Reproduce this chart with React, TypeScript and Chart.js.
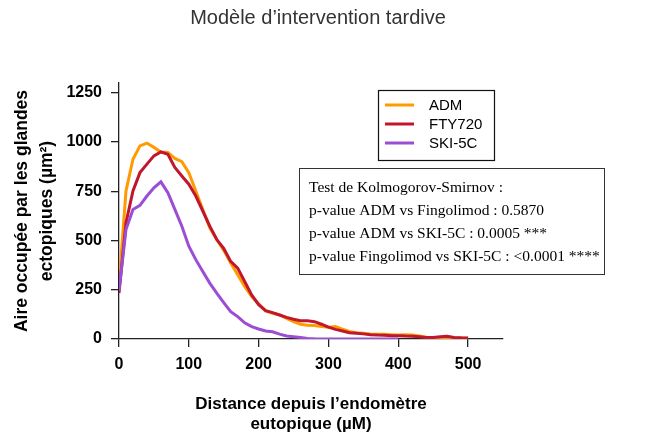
import React, { useEffect, useRef } from "react";
import { Chart, registerables } from "chart.js";

Chart.register(...registerables);

const distances = [
  0, 10, 20, 30, 40, 50, 60, 70, 80, 90,
  100, 110, 120, 130, 140, 150, 160, 170, 180, 190,
  200, 210, 220, 230, 240, 250, 260, 270, 280, 290,
  300, 310, 320, 330, 340, 350, 360, 370, 380, 390,
  400, 410, 420, 430, 440, 450, 460, 470, 480, 490, 500,
];

const admValues = [
  275, 752, 913, 981, 995, 973, 950, 947, 917, 900,
  845, 752, 658, 565, 505, 450, 386, 327, 267, 216,
  179, 143, 131, 122, 105, 88, 75, 70, 68, 63,
  60, 63, 50, 38, 32, 29, 26, 24, 24, 22,
  20, 22, 20, 15, 9, 7, 7, 7, 5, 5, 4,
];

const ftyValues = [
  233, 590, 752, 845, 888, 930, 950, 938, 871, 828,
  786, 726, 650, 573, 505, 460, 394, 360, 292, 224,
  174, 144, 134, 122, 110, 100, 93, 93, 88, 75,
  60, 49, 41, 32, 29, 26, 22, 20, 19, 17,
  17, 15, 14, 12, 8, 8, 12, 14, 8, 6, 5,
];

const skiValues = [
  245, 556, 658, 679, 726, 768, 798, 743, 658, 573,
  471, 403, 343, 284, 233, 185, 139, 114, 82, 63,
  51, 41, 37, 25, 15, 12, 8, 3, 1, 0,
  0, 0, 0, 0, 0, 0, 0, 0, 0, 0,
  0, null, null, null, null, null, null, null, null, null, null,
];

const seriesLabels = ["ADM", "FTY720", "SKI-5C"];
const seriesColors = ["#FF9A00", "#C0172D", "#9B4DD4"];

const yTicks = [0, 250, 500, 750, 1000, 1250];
const xTicks = [0, 100, 200, 300, 400, 500];

const chartTitle = "Modèle d\u2019intervention tardive";
const yTitle = ["Aire occupée par les glandes", "ectopiques (\u00b5m\u00b2)"];
const xTitle = ["Distance depuis l\u2019endomètre", "eutopique (\u00b5M)"];
const statsLines = [
  "Test de Kolmogorov-Smirnov :",
  "p-value ADM vs Fingolimod : 0.5870",
  "p-value ADM vs SKI-5C : 0.0005 ***",
  "p-value Fingolimod vs SKI-5C : <0.0001 ****",
];

const SANS = "'Liberation Sans', Arial, Helvetica, sans-serif";
const SERIF = "'Liberation Serif', 'Times New Roman', serif";

const overlayPlugin = {
  id: "overlay",
  afterDraw(chart: any) {
    const ctx = chart.ctx;
    ctx.save();
    // Title
    ctx.fillStyle = "#333333";
    ctx.font = `20px ${SANS}`;
    ctx.textAlign = "center";
    ctx.textBaseline = "middle";
    ctx.fillText(chartTitle, 310, 10);

    // Legend box
    ctx.strokeStyle = "#111111";
    ctx.lineWidth = 1.2;
    ctx.strokeRect(370.5, 82.5, 116, 70);
    ctx.font = `15px ${SANS}`;
    ctx.textAlign = "left";
    ctx.fillStyle = "#000000";
    chart.data.datasets.forEach((ds: any, i: number) => {
      const y = 97 + i * 19;
      ctx.strokeStyle = ds.borderColor;
      ctx.lineWidth = 3;
      ctx.beginPath();
      ctx.moveTo(377, y);
      ctx.lineTo(406, y);
      ctx.stroke();
      ctx.fillText(ds.label, 421, y + 1);
    });

    // Stats box
    ctx.strokeStyle = "#333333";
    ctx.lineWidth = 1;
    ctx.strokeRect(291.5, 160.5, 305, 106);
    ctx.font = `15.5px ${SERIF}`;
    ctx.fillStyle = "#000000";
    statsLines.forEach((t, i) => {
      ctx.fillText(t, 301, 180 + i * 23);
    });
    ctx.restore();
  },
};

export default function App() {
  const canvasRef = useRef<HTMLCanvasElement | null>(null);

  useEffect(() => {
    if (!canvasRef.current) return;
    const allValues = [admValues, ftyValues, skiValues];
    const datasets = allValues.map((vals, i) => ({
      label: seriesLabels[i],
      data: distances
        .map((x, j) => ({ x, y: vals[j] }))
        .filter((p) => p.y !== null),
      borderColor: seriesColors[i],
      backgroundColor: seriesColors[i],
      borderWidth: 3,
      pointRadius: 0,
      tension: 0,
      fill: false,
      order: 2 - i,
    }));

    const chart = new Chart(canvasRef.current, {
      type: "line",
      data: { datasets: datasets as any },
      options: {
        animation: false,
        responsive: true,
        maintainAspectRatio: false,
        layout: { padding: { top: 75, right: 157, left: 0, bottom: 0 } },
        plugins: {
          legend: { display: false },
          title: { display: false },
          tooltip: { enabled: false },
        },
        scales: {
          x: {
            type: "linear",
            min: 0,
            max: 550,
            afterBuildTicks: (scale: any) => {
              scale.ticks = xTicks.map((v) => ({ value: v }));
            },
            afterFit: (scale: any) => {
              scale.height = 97;
            },
            ticks: {
              color: "#000000",
              font: { family: SANS, size: 16, weight: "bold" },
              padding: 8,
              maxRotation: 0,
              callback: (v: any) => String(v),
            },
            grid: {
              drawOnChartArea: false,
              drawTicks: true,
              tickLength: 8,
              color: "#222222",
              lineWidth: 1.3,
            },
            border: { display: true, color: "#222222", width: 1.3 },
            title: {
              display: true,
              text: xTitle,
              color: "#000000",
              font: { family: SANS, size: 17, weight: "bold", lineHeight: 1.18 },
              padding: { top: 0, bottom: 2 },
            },
          },
          y: {
            type: "linear",
            min: 0,
            max: 1300,
            afterBuildTicks: (scale: any) => {
              scale.ticks = yTicks.map((v) => ({ value: v }));
            },
            afterFit: (scale: any) => {
              scale.width = 111;
            },
            ticks: {
              color: "#000000",
              font: { family: SANS, size: 16, weight: "bold" },
              padding: 9,
              callback: (v: any) => String(v),
            },
            grid: {
              drawOnChartArea: false,
              drawTicks: true,
              tickLength: 8,
              color: "#222222",
              lineWidth: 1.3,
            },
            border: { display: true, color: "#222222", width: 1.3 },
            title: {
              display: true,
              text: yTitle,
              color: "#000000",
              font: { family: SANS, size: 17.5, weight: "bold", lineHeight: 1.43 },
              padding: { top: 1.5, bottom: 0 },
            },
          },
        },
      },
      plugins: [overlayPlugin],
    });
    return () => chart.destroy();
  }, []);

  return (
    <div style={{ position: "absolute", left: 8, top: 8, width: 652, height: 428 }}>
      <canvas ref={canvasRef} />
    </div>
  );
}
